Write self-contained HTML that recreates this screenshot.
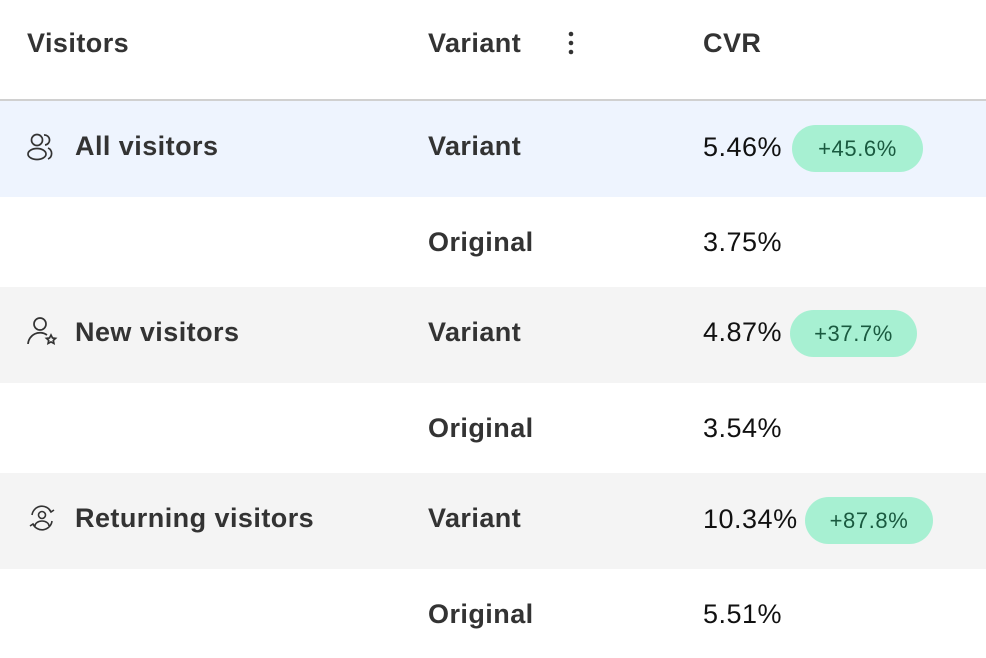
<!DOCTYPE html>
<html><head><style>
body{margin:0;width:986px;height:658px;overflow:hidden;background:#fff;font-family:"Liberation Sans",Arial,sans-serif;}
.r{position:absolute;left:0;width:986px;}
.t{position:absolute;font-size:27px;line-height:30px;color:#333;font-weight:bold;white-space:nowrap;letter-spacing:0.45px;}
.v{position:absolute;font-size:27px;line-height:30px;color:#111;white-space:nowrap;letter-spacing:0.5px;}
.p{position:absolute;height:47px;border-radius:24px;background:#a7f0d2;color:#1a5a40;font-size:22px;line-height:47px;text-align:center;letter-spacing:0.6px;}
svg{position:absolute;}
</style></head><body>
<div class="r" style="top:0;height:99px;background:#fff"></div>
<div class="r" style="top:99px;height:2px;background:#d0d0d0"></div>
<div class="r" style="top:101px;height:96px;background:#eef4fe"></div>
<div class="r" style="top:287px;height:96px;background:#f4f4f4"></div>
<div class="r" style="top:473px;height:96px;background:#f4f4f4"></div>

<div class="t" style="left:27px;top:28px">Visitors</div>
<div class="t" style="left:428px;top:28px">Variant</div>
<div class="t" style="left:703px;top:28px">CVR</div>
<svg style="left:566px;top:30px" width="10" height="28"><circle cx="5" cy="4" r="2.3" fill="#333"/><circle cx="5" cy="13" r="2.3" fill="#333"/><circle cx="5" cy="22" r="2.3" fill="#333"/></svg>

<svg style="left:26px;top:132px" width="32" height="30" fill="none" stroke="#333" stroke-width="1.7"><circle cx="11" cy="8" r="5.5"/><ellipse cx="11" cy="22" rx="9" ry="5.5"/><path d="M18 3a5 5 0 0 1 1 10M22 16a6 6 0 0 1 0 11"/></svg>
<div class="t" style="left:75px;top:131px">All visitors</div>
<div class="t" style="left:428px;top:131px">Variant</div>
<div class="v" style="left:703px;top:132px">5.46%</div>
<div class="p" style="left:792px;top:125px;width:131px">+45.6%</div>

<div class="t" style="left:428px;top:227px">Original</div>
<div class="v" style="left:703px;top:227px">3.75%</div>

<svg style="left:26px;top:316px" width="32" height="32" fill="none" stroke="#333" stroke-width="1.7"><circle cx="14" cy="8" r="6"/><path d="M2 28a12 12 0 0 1 19-9"/><path d="M25 19l1.5 3 3 .4-2.2 2 .6 3-2.9-1.5-2.9 1.5.6-3-2.2-2 3-.4z"/></svg>
<div class="t" style="left:75px;top:317px">New visitors</div>
<div class="t" style="left:428px;top:317px">Variant</div>
<div class="v" style="left:703px;top:317px">4.87%</div>
<div class="p" style="left:790px;top:310px;width:127px">+37.7%</div>

<div class="t" style="left:428px;top:413px">Original</div>
<div class="v" style="left:703px;top:413px">3.54%</div>

<svg style="left:28px;top:505px" width="30" height="28" fill="none" stroke="#333" stroke-width="1.6"><circle cx="14" cy="10" r="3.5"/><path d="M7 21a7 5 0 0 1 14 0"/><path d="M4 10a10 10 0 0 1 19-3M24 16a10 10 0 0 1-19 3"/><path d="M21 4l2 3 3-2M7 22l-2-3-3 2"/></svg>
<div class="t" style="left:75px;top:503px">Returning visitors</div>
<div class="t" style="left:428px;top:503px">Variant</div>
<div class="v" style="left:703px;top:504px">10.34%</div>
<div class="p" style="left:805px;top:497px;width:128px">+87.8%</div>

<div class="t" style="left:428px;top:599px">Original</div>
<div class="v" style="left:703px;top:599px">5.51%</div>
</body></html>
